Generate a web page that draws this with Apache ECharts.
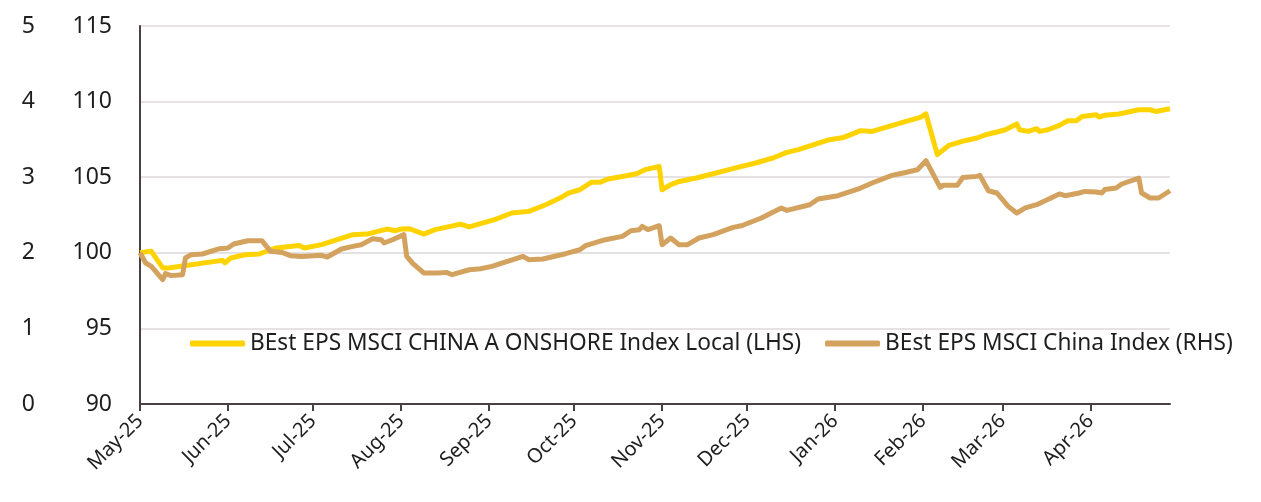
<!DOCTYPE html>
<html>
<head>
<meta charset="utf-8">
<script src="https://cdn.jsdelivr.net/npm/echarts@6/dist/echarts.min.js"></script>
<style>
  html, body { margin: 0; padding: 0; background: #fff; }
  #chart { width: 1261px; height: 502px; }
</style>
</head>
<body>
<div id="chart"></div>
<script>
// BEst EPS MSCI CHINA A ONSHORE Index Local (LHS)
var onshoreDates = ['2025-05-01','2025-05-05','2025-05-09','2025-05-11','2025-05-30','2025-05-31','2025-06-02','2025-06-07','2025-06-12','2025-06-18','2025-06-26','2025-06-28','2025-07-04','2025-07-12','2025-07-15','2025-07-20','2025-07-27','2025-07-30','2025-08-01','2025-08-04','2025-08-09','2025-08-13','2025-08-22','2025-08-25','2025-09-03','2025-09-09','2025-09-15','2025-09-21','2025-09-26','2025-09-29','2025-10-03','2025-10-07','2025-10-10','2025-10-13','2025-10-18','2025-10-23','2025-10-26','2025-10-31','2025-11-01','2025-11-04','2025-11-07','2025-11-13','2025-11-19','2025-11-28','2025-12-04','2025-12-10','2025-12-15','2025-12-19','2025-12-30','2026-01-04','2026-01-10','2026-01-14','2026-01-20','2026-01-26','2026-01-31','2026-02-02','2026-02-06','2026-02-10','2026-02-16','2026-02-20','2026-02-23','2026-02-27','2026-03-02','2026-03-06','2026-03-07','2026-03-10','2026-03-13','2026-03-14','2026-03-17','2026-03-21','2026-03-24','2026-03-27','2026-03-29','2026-04-03','2026-04-04','2026-04-06','2026-04-11','2026-04-18','2026-04-22','2026-04-24','2026-04-29'];
var onshoreValues = [100.0,100.1,99.0,99.0,99.5,99.33,99.66,99.87,99.92,100.32,100.49,100.32,100.54,101.02,101.2,101.24,101.57,101.46,101.57,101.59,101.24,101.53,101.9,101.71,102.19,102.63,102.74,103.18,103.62,103.95,104.17,104.66,104.66,104.88,105.05,105.23,105.5,105.71,104.17,104.5,104.72,104.95,105.23,105.67,105.94,106.27,106.64,106.82,107.48,107.63,108.08,108.03,108.36,108.69,108.96,109.18,106.49,107.1,107.43,107.59,107.81,107.99,108.14,108.52,108.14,108.03,108.21,108.03,108.14,108.43,108.74,108.74,109.02,109.13,108.98,109.09,109.18,109.46,109.46,109.35,109.53];

// BEst EPS MSCI China Index (RHS)
var chinaDates = ['2025-05-01','2025-05-03','2025-05-05','2025-05-09','2025-05-10','2025-05-12','2025-05-16','2025-05-17','2025-05-19','2025-05-23','2025-05-29','2025-06-01','2025-06-03','2025-06-08','2025-06-13','2025-06-16','2025-06-20','2025-06-23','2025-06-27','2025-07-04','2025-07-06','2025-07-11','2025-07-15','2025-07-18','2025-07-22','2025-07-25','2025-07-26','2025-07-29','2025-08-02','2025-08-03','2025-08-05','2025-08-09','2025-08-14','2025-08-17','2025-08-19','2025-08-25','2025-08-29','2025-09-02','2025-09-13','2025-09-15','2025-09-20','2025-09-28','2025-10-03','2025-10-05','2025-10-12','2025-10-18','2025-10-21','2025-10-24','2025-10-25','2025-10-27','2025-10-31','2025-11-01','2025-11-04','2025-11-07','2025-11-10','2025-11-14','2025-11-19','2025-11-26','2025-11-29','2025-12-06','2025-12-13','2025-12-15','2025-12-23','2025-12-26','2026-01-02','2026-01-10','2026-01-14','2026-01-21','2026-01-25','2026-01-30','2026-02-02','2026-02-07','2026-02-08','2026-02-13','2026-02-15','2026-02-20','2026-02-21','2026-02-24','2026-02-27','2026-03-03','2026-03-06','2026-03-09','2026-03-13','2026-03-16','2026-03-21','2026-03-23','2026-03-28','2026-03-30','2026-04-03','2026-04-05','2026-04-06','2026-04-10','2026-04-12','2026-04-18','2026-04-19','2026-04-22','2026-04-25','2026-04-29'];
var chinaValues = [2.0,1.865,1.82,1.644,1.724,1.698,1.711,1.931,1.975,1.984,2.054,2.063,2.116,2.16,2.16,2.019,2.005,1.962,1.952,1.966,1.944,2.05,2.085,2.107,2.187,2.173,2.13,2.173,2.24,1.952,1.865,1.733,1.733,1.741,1.71,1.776,1.79,1.82,1.952,1.909,1.918,1.988,2.04,2.094,2.173,2.217,2.292,2.306,2.349,2.306,2.358,2.107,2.196,2.107,2.107,2.196,2.24,2.336,2.358,2.46,2.593,2.561,2.636,2.712,2.755,2.857,2.923,3.024,3.056,3.099,3.218,2.865,2.892,2.892,2.997,3.011,3.024,2.821,2.791,2.614,2.526,2.593,2.636,2.689,2.778,2.755,2.791,2.812,2.804,2.791,2.836,2.857,2.91,2.989,2.791,2.725,2.725,2.821];

var monthNames = ['Jan','Feb','Mar','Apr','May','Jun','Jul','Aug','Sep','Oct','Nov','Dec'];
var seriesNames = ['BEst EPS MSCI CHINA A ONSHORE Index Local (LHS)', 'BEst EPS MSCI China Index (RHS)'];

function pairs(dates, values) {
    var out = [];
    for (var i = 0; i < dates.length; i++) {
        out.push([dates[i], values[i]]);
    }
    return out;
}

var axisColor = '#4a4044';
var textColor = '#1e1e1e';
var fontFamily = '"Noto Sans", sans-serif';

var myChart = echarts.init(document.getElementById('chart'));

var option = {
    animation: false,
    backgroundColor: '#fff',
    grid: {
        left: 140,
        right: 91,
        top: 26,
        bottom: 98
    },
    legend: {
        left: 185,
        top: 327,
        itemWidth: 55,
        itemHeight: 6,
        itemGap: 24,
        icon: 'roundRect',
        textStyle: {
            fontFamily: fontFamily,
            fontSize: 22.7,
            color: textColor
        },
        data: seriesNames
    },
    xAxis: {
        type: 'time',
        min: '2025-05-01',
        max: '2026-04-29',
        minInterval: 28 * 86400000,
        maxInterval: 31 * 86400000,
        axisLine: { lineStyle: { color: axisColor, width: 2 } },
        axisTick: { show: true, length: 7, lineStyle: { color: axisColor, width: 2 } },
        splitLine: { show: false },
        axisLabel: {
            rotate: 45,
            margin: 14,
            fontFamily: fontFamily,
            fontSize: 20,
            color: textColor,
            hideOverlap: false,
            showMaxLabel: false,
            formatter: function (value) {
                var d = new Date(value);
                return monthNames[d.getMonth()] + '-' + String(d.getFullYear()).slice(2);
            }
        }
    },
    yAxis: [
        {
            type: 'value',
            min: 90,
            max: 115,
            interval: 5,
            position: 'left',
            axisLine: { show: true, lineStyle: { color: axisColor, width: 2 } },
            axisTick: { show: false },
            splitLine: { lineStyle: { color: '#e6e1e3', width: 2 } },
            axisLabel: {
                margin: 28,
                fontFamily: fontFamily,
                fontSize: 23,
                color: textColor,
                padding: [0, 0, 8, 0]
            }
        },
        {
            type: 'value',
            min: 0,
            max: 5,
            interval: 1,
            position: 'left',
            offset: 77,
            axisLine: { show: false },
            axisTick: { show: false },
            splitLine: { show: false },
            axisLabel: {
                margin: 28,
                fontFamily: fontFamily,
                fontSize: 23,
                color: textColor,
                padding: [0, 0, 8, 0]
            }
        }
    ],
    series: [
        {
            name: seriesNames[0],
            type: 'line',
            yAxisIndex: 0,
            data: pairs(onshoreDates, onshoreValues),
            symbol: 'none',
            color: '#ffd300',
            lineStyle: { width: 5, color: '#ffd300', join: 'round' }
        },
        {
            name: seriesNames[1],
            type: 'line',
            yAxisIndex: 1,
            data: pairs(chinaDates, chinaValues),
            symbol: 'none',
            color: '#d3a25f',
            lineStyle: { width: 5, color: '#d3a25f', join: 'round' }
        }
    ]
};

myChart.setOption(option);
</script>
</body>
</html>
